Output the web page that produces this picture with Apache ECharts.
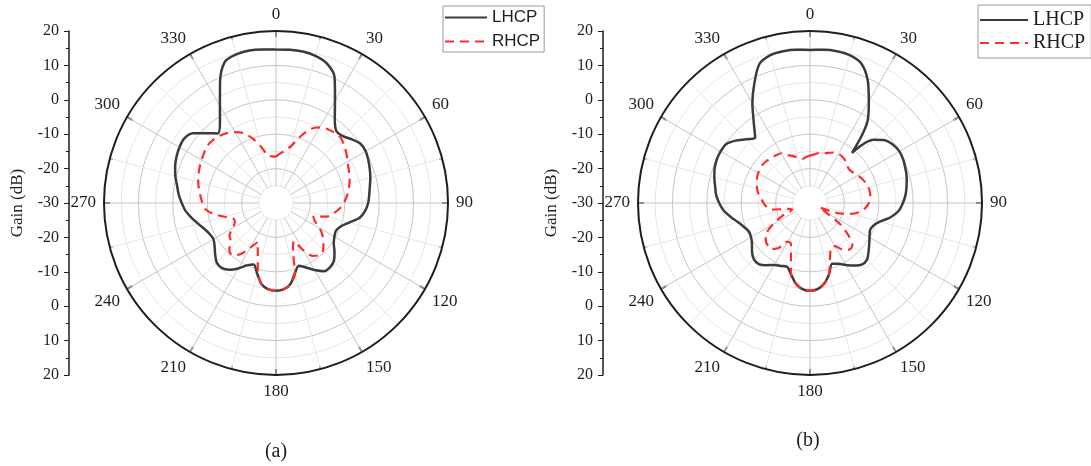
<!DOCTYPE html>
<html>
<head>
<meta charset="utf-8">
<script src="https://cdn.jsdelivr.net/npm/echarts/dist/echarts.min.js"></script>
<style>
  html, body { margin: 0; padding: 0; background: #fff; }
  #chart { width: 1091px; height: 466px; }
</style>
</head>
<body>
<div id="chart"></div>
<script>
// sampled angles (deg), shared by every curve
const angles = [0, 5, 10, 15, 20, 25, 30, 35, 40, 45, 50, 55, 60, 65, 70, 75, 80, 85,
  90, 95, 100, 105, 110, 115, 120, 125, 130, 135, 140, 145, 150, 155, 160, 165, 170, 175,
  180, 185, 190, 195, 200, 205, 210, 215, 220, 225, 230, 235, 240, 245, 250, 255, 260, 265,
  270, 275, 280, 285, 290, 295, 300, 305, 310, 315, 320, 325, 330, 335, 340, 345, 350, 355, 360];

// (a) gain in dB
const lhcpA = [14.6, 14.7, 14.7, 14.3, 13.2, 10.3, 4.3, -0.2, -2.7, -2.5, -1.2, 0, 0.1, -0.4, -1.0, -1.6, -2.3, -2.8,
  -3.2, -4.0, -5.3, -8.0, -10.0, -10.8, -10.4, -9.5, -7.8, -6.2, -5.6, -5.8, -7.5, -9.3, -10.6, -8.8, -6.0, -4.8,
  -4.5, -4.8, -6.0, -8.8, -11.0, -10.0, -8.0, -6.3, -5.4, -5.6, -6.9, -8.2, -9.0, -8.7, -7.9, -6.6, -5.1, -3.6,
  -2.6, -1.6, -0.8, 0.3, 1.2, 1.9, 2.4, 2.6, 1.5, -1.3, -3.6, -1.6, 2.6, 8.5, 13.6, 14.7, 15.0, 14.8, 14.6];
const rhcpA = [-16.5, -15.5, -14.5, -12.8, -9.5, -6.3, -4.6, -3.8, -3.4, -3.3, -4.1, -5.0, -6.0, -6.7, -7.2, -7.9, -8.6, -9.4,
  -10.3, -11.4, -13.0, -14.7, -18.5, -17.5, -15.3, -13.5, -12.0, -10.6, -10.3, -11.2, -14.2, -17.8, -15.5, -8.8, -6.0, -4.8,
  -4.5, -4.8, -6.0, -9.5, -14.5, -17.5, -15.0, -11.8, -10.2, -10.8, -12.8, -13.5, -15.5, -16.8, -16.8, -14.5, -11.6, -9.4,
  -8.6, -8.0, -7.3, -6.6, -6.0, -5.5, -5.0, -4.5, -4.0, -4.1, -4.5, -5.2, -6.2, -7.6, -10.0, -13.0, -15.8, -16.4, -16.5];

// (b) gain in dB
const lhcpB = [14.5, 14.7, 14.8, 14.5, 13.3, 9.6, 4.2, -0.8, -11.0, -4.0, -1.6, -0.5, 0.0, -0.1, -0.5, -0.9, -1.5, -2.1,
  -3.0, -4.1, -6.2, -9.0, -10.5, -10.8, -10.0, -9.0, -7.8, -6.6, -6.6, -7.8, -9.2, -10.5, -11.2, -8.6, -6.2, -4.9,
  -4.5, -4.9, -6.2, -8.6, -10.3, -9.8, -9.2, -7.9, -6.8, -6.9, -8.0, -9.4, -10.2, -10.4, -9.6, -8.4, -6.6, -4.8,
  -3.6, -2.6, -2.0, -1.2, -0.5, -0.1, 0.0, -0.2, -1.8, -3.8, -5.2, -1.5, 3.5, 8.3, 13.0, 14.5, 14.8, 14.7, 14.5];
const rhcpB = [-16.2, -15.8, -15.3, -15.0, -14.5, -13.8, -13.5, -13.6, -14.0, -14.7, -15.0, -14.6, -14.0, -13.3, -12.8, -12.4, -12.3, -12.4,
  -12.9, -13.8, -15.2, -17.8, -21.3, -27.0, -25.0, -19.5, -15.5, -12.6, -12.3, -13.5, -15.5, -15.5, -13.0, -8.6, -6.2, -4.9,
  -4.5, -4.9, -6.2, -8.6, -13.8, -16.9, -17.0, -14.0, -12.5, -12.6, -13.2, -14.5, -17.5, -21.0, -24.5, -23.5, -18.8, -17.3,
  -16.5, -15.8, -14.8, -14.1, -13.5, -13.0, -12.6, -12.4, -12.3, -12.5, -12.8, -13.0, -13.3, -14.6, -15.5, -16.3, -17.0, -16.6, -16.2];

// vertical gain scale labels, top to bottom
const gainTicks = ['20', '10', '0', '-10', '-20', '-30', '-20', '-10', '0', '10', '20'];
const seriesNames = ['LHCP', 'RHCP'];

const serif = 'Liberation Serif';
const ink = '#1e1e1e';
const R = 172;
const CY = 203;

function pairs(vals) {
  return angles.map((a, i) => [vals[i], a]);
}

const polar = [], angleAxis = [], radiusAxis = [], series = [];
const grid = [], xAxis = [], yAxis = [];

function addPlot(cx, axisX, lh, rh) {
  const pData = polar.length;
  // data + circles
  polar.push({ center: [cx, CY], radius: [0, R] });
  angleAxis.push({
    polarIndex: pData, type: 'value', min: 0, max: 360, interval: 30,
    startAngle: 90, clockwise: true,
    axisLine: { lineStyle: { color: ink, width: 2 } },
    axisTick: { show: true, inside: true, length: 6, lineStyle: { color: ink, width: 1.5 } },
    minorTick: { show: true, splitNumber: 2, length: 4, lineStyle: { color: ink, width: 1 } },
    axisLabel: {
      formatter: v => (v === 360 ? '' : String(v)),
      margin: 8, fontFamily: serif, fontSize: 17, color: ink
    },
    splitLine: { show: false },
    minorSplitLine: { show: false }
  });
  radiusAxis.push({
    polarIndex: pData, type: 'value', min: -30, max: 20, interval: 10,
    axisLine: { show: false }, axisTick: { show: false }, axisLabel: { show: false },
    minorTick: { show: false, splitNumber: 2 },
    splitLine: { show: true, lineStyle: { color: '#c6c6c6', width: 1 } },
    minorSplitLine: { show: true, lineStyle: { color: '#e6e6e6', width: 1 } }
  });
  // spokes with an empty hole in the middle
  const pSpoke = polar.length;
  polar.push({ center: [cx, CY], radius: [17, R] });
  angleAxis.push({
    polarIndex: pSpoke, type: 'value', min: 0, max: 360, interval: 30,
    startAngle: 90, clockwise: true,
    axisLine: { show: false }, axisTick: { show: false }, axisLabel: { show: false },
    minorTick: { show: false, splitNumber: 2 },
    splitLine: { show: true, lineStyle: { color: '#c6c6c6', width: 1 } },
    minorSplitLine: { show: true, lineStyle: { color: '#e6e6e6', width: 1 } }
  });
  radiusAxis.push({
    polarIndex: pSpoke, type: 'value', min: 0, max: 1,
    axisLine: { show: false }, axisTick: { show: false }, axisLabel: { show: false },
    splitLine: { show: false }
  });

  series.push({
    type: 'line', name: seriesNames[0], coordinateSystem: 'polar', polarIndex: pData,
    data: pairs(lh), symbol: 'none', smooth: 0.3, z: 3,
    lineStyle: { color: '#3b3b3b', width: 2.5 }, itemStyle: { color: '#3b3b3b' }
  });
  series.push({
    type: 'line', name: seriesNames[1], coordinateSystem: 'polar', polarIndex: pData,
    data: pairs(rh), symbol: 'none', smooth: 0.3, z: 4,
    lineStyle: { color: '#ff2b2b', width: 2.2, type: [9, 6] }, itemStyle: { color: '#ff2b2b' }
  });

  // linear gain scale at the left
  const g = grid.length;
  grid.push({ left: axisX, top: CY - R, width: 1, height: 2 * R, outerBoundsMode: 'none' });
  xAxis.push({ gridIndex: g, type: 'value', show: false });
  yAxis.push({
    gridIndex: g, type: 'value', min: 0, max: 10, interval: 1, position: 'left',
    axisLine: { show: true, lineStyle: { color: ink, width: 1.5 } },
    axisTick: { show: true, length: 5, lineStyle: { color: ink } },
    minorTick: { show: true, splitNumber: 2, length: 3, lineStyle: { color: ink } },
    splitLine: { show: false },
    axisLabel: { formatter: v => gainTicks[10 - v], fontFamily: serif, fontSize: 16, color: ink, margin: 10 },
    name: 'Gain (dB)', nameLocation: 'middle', nameGap: 43, nameRotate: 90, nameMoveOverlap: false,
    nameTextStyle: { fontFamily: serif, fontSize: 17, color: ink }
  });
}

addPlot(276, 69, lhcpA, rhcpA);
addPlot(810, 603, lhcpB, rhcpB);

const myChart = echarts.init(document.getElementById('chart'));
myChart.setOption({
  animation: false,
  polar: polar,
  angleAxis: angleAxis,
  radiusAxis: radiusAxis,
  grid: grid,
  xAxis: xAxis,
  yAxis: yAxis,
  legend: [
    {
      data: seriesNames, orient: 'vertical', left: 443, top: 6,
      itemWidth: 42, itemHeight: 14, itemGap: 7, padding: [3, 4, 2, 1],
      borderColor: '#9a9a9a', borderWidth: 1,
      itemStyle: { opacity: 0 },
      textStyle: { fontFamily: 'Liberation Sans', fontSize: 17, color: ink }
    },
    {
      data: seriesNames, orient: 'vertical', left: 978, top: 5,
      itemWidth: 48, itemHeight: 14, itemGap: 3, padding: [5, 6, 5, 1],
      borderColor: '#9a9a9a', borderWidth: 1,
      itemStyle: { opacity: 0 },
      textStyle: { fontFamily: serif, fontSize: 20, color: ink }
    }
  ],
  graphic: [
    { type: 'text', x: 276, y: 452, style: { text: '(a)', font: '20px "Liberation Serif"', fill: ink, align: 'center', verticalAlign: 'middle' } },
    { type: 'text', x: 808, y: 441, style: { text: '(b)', font: '20px "Liberation Serif"', fill: ink, align: 'center', verticalAlign: 'middle' } }
  ],
  series: series
});
</script>
</body>
</html>
